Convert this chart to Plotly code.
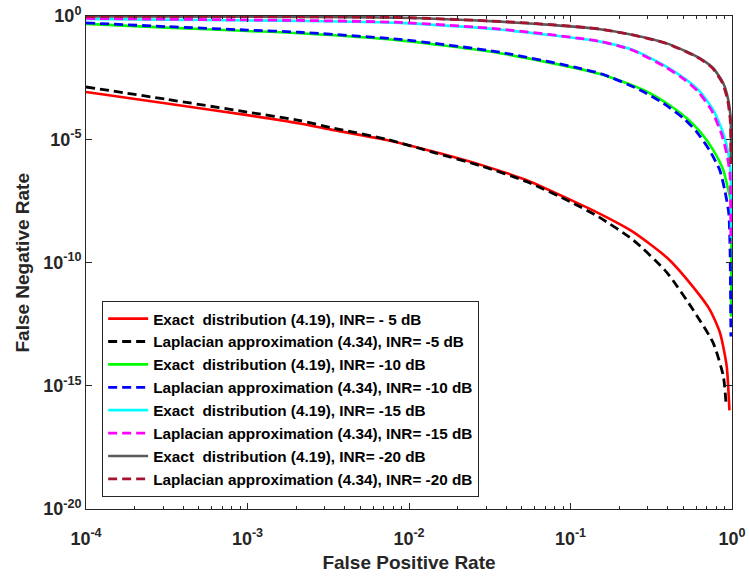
import numpy as np
import plotly.graph_objects as go

# ---- curve data (log10 of the false positive / false negative rates) ----
# INR = -5 dB
exact5_lfpr = [-4.0, -3.5, -3.0, -2.675, -2.489, -2.138, -1.839, -1.55, -1.271, -1.003,
               -0.817, -0.613, -0.40, -0.24, -0.136, -0.074, -0.033, -0.016]
exact5_lfnr = [-3.08, -3.55, -4.02, -4.36, -4.60, -5.03, -5.52, -6.05, -6.66, -7.45,
               -8.03, -8.76, -9.82, -11.0, -11.93, -12.86, -14.2, -16.0]
lap5_lfpr = [-4.0, -3.5, -3.0, -2.675, -2.489, -2.138, -1.839, -1.55, -1.271, -1.003,
             -0.828, -0.611, -0.404, -0.240, -0.116, -0.054, -0.037]
lap5_lfnr = [-2.88, -3.38, -3.90, -4.24, -4.52, -5.00, -5.55, -6.09, -6.72, -7.53,
             -8.14, -9.09, -10.4, -11.93, -13.27, -14.6, -15.7]

# INR = -10 dB
exact10_lfpr = [-4.0, -3.5, -3.0, -2.675, -2.056, -1.437, -0.817, -0.549, -0.404, -0.28,
                -0.198, -0.116, -0.054, -0.023, -0.008, -0.006]
exact10_lfnr = [-0.32, -0.47, -0.61, -0.70, -0.99, -1.51, -2.35, -3.0, -3.54, -4.15,
                -4.69, -5.44, -6.25, -7.06, -7.46, -12.2]
lap10_lfpr = [-4.0, -3.5, -3.0, -2.675, -2.056, -1.437, -0.817, -0.57, -0.425, -0.30,
              -0.22, -0.14, -0.076, -0.045, -0.02, -0.012, -0.007]
lap10_lfnr = [-0.28, -0.43, -0.57, -0.66, -0.95, -1.47, -2.33, -3.0, -3.54, -4.15,
              -4.69, -5.44, -6.25, -7.06, -8.0, -9.5, -13.0]

# INR = -15 dB
exact15_lfpr = [-4.0, -3.5, -3.0, -2.675, -2.056, -1.437, -0.817, -0.611, -0.404, -0.28,
                -0.198, -0.116, -0.054, -0.023, -0.008, -0.006]
exact15_lfnr = [-0.12, -0.15, -0.18, -0.20, -0.28, -0.55, -1.04, -1.38, -2.06, -2.6,
                -3.07, -3.81, -4.76, -5.57, -6.38, -9.0]
lap15_lfpr = [-4.0, -3.5, -3.0, -2.675, -2.056, -1.437, -0.817, -0.62, -0.414, -0.29,
              -0.21, -0.128, -0.066, -0.033, -0.013, -0.007]
lap15_lfnr = [-0.10, -0.13, -0.16, -0.18, -0.26, -0.53, -1.03, -1.38, -2.06, -2.6,
              -3.07, -3.81, -4.76, -5.57, -6.38, -9.2]

# INR = -20 dB
exact20_lfpr = [-4.0, -3.0, -2.675, -2.056, -1.437, -1.1, -0.817, -0.611, -0.404, -0.28,
                -0.198, -0.116, -0.054, -0.023, -0.008, -0.006]
exact20_lfnr = [-0.02, -0.03, -0.04, -0.07, -0.23, -0.37, -0.54, -0.77, -1.11, -1.45,
                -1.72, -2.12, -2.73, -3.41, -4.22, -6.0]
lap20_lfpr = [-4.0, -3.0, -2.675, -2.056, -1.437, -1.1, -0.817, -0.615, -0.408, -0.284,
              -0.202, -0.12, -0.058, -0.027, -0.011, -0.007]
lap20_lfnr = [-0.01, -0.02, -0.03, -0.06, -0.22, -0.36, -0.53, -0.77, -1.11, -1.45,
              -1.72, -2.12, -2.73, -3.41, -4.22, -6.0]

exact_label = "Exact\u00a0 distribution (4.19), INR= "
lap_label = "Laplacian approximation (4.34), INR= "

series = [
    (exact5_lfpr, exact5_lfnr, exact_label + "- 5 dB", "#ff0000", "solid", 2.6),
    (lap5_lfpr, lap5_lfnr, lap_label + "-5 dB", "#000000", "9px,5px", 2.8),
    (exact10_lfpr, exact10_lfnr, exact_label + "-10 dB", "#00ff00", "solid", 2.6),
    (lap10_lfpr, lap10_lfnr, lap_label + "-10 dB", "#0000ff", "9px,5px", 2.8),
    (exact15_lfpr, exact15_lfnr, exact_label + "-15 dB", "#00ffff", "solid", 2.6),
    (lap15_lfpr, lap15_lfnr, lap_label + "-15 dB", "#ff00ff", "9px,5px", 2.8),
    (exact20_lfpr, exact20_lfnr, exact_label + "-20 dB", "#5a5a5a", "solid", 2.6),
    (lap20_lfpr, lap20_lfnr, lap_label + "-20 dB", "#a2142f", "9px,5px", 2.8),
]

fig = go.Figure()
for i, (lx, ly, name, color, dash, width) in enumerate(series):
    fig.add_trace(go.Scatter(
        x=10 ** np.array(lx), y=10 ** np.array(ly),
        mode="lines", name=name,
        line=dict(color=color, dash=dash, width=width, shape="spline", smoothing=0.6),
    ))

axis_color = "#262626"
font_family = "Liberation Sans, Arial, Helvetica, sans-serif"
x_major = [1e-4, 1e-3, 1e-2, 1e-1, 1e0]
x_major_text = ["10<sup>-4</sup>", "10<sup>-3</sup>", "10<sup>-2</sup>", "10<sup>-1</sup>", "10<sup>0</sup>"]
x_minor = [m * d for d in [1e-4, 1e-3, 1e-2, 1e-1] for m in range(2, 10)]
y_major = [1e-20, 1e-15, 1e-10, 1e-5, 1e0]
y_major_text = ["10<sup>-20</sup>", "10<sup>-15</sup>", "10<sup>-10</sup>", "10<sup>-5</sup>", "10<sup>0</sup>"]

tick_font = dict(family=font_family, size=18, color=axis_color, weight="bold")
title_font = dict(family=font_family, size=19, color=axis_color, weight="bold")

fig.update_xaxes(
    type="log", range=[-4, 0], automargin=False,
    tickmode="array", tickvals=x_major, ticktext=x_major_text,
    ticks="inside", ticklen=6, tickwidth=1, tickcolor=axis_color,
    minor=dict(tickmode="array", tickvals=x_minor, ticks="inside", ticklen=3,
               tickwidth=1, tickcolor=axis_color, showgrid=False),
    showline=True, linecolor=axis_color, linewidth=1, mirror="ticks",
    showgrid=False, zeroline=False, tickfont=tick_font, ticklabelstandoff=13,
    title=dict(text="False Positive Rate", font=title_font, standoff=8),
)
fig.update_yaxes(
    type="log", range=[-20, 0], automargin=False,
    tickmode="array", tickvals=y_major, ticktext=y_major_text,
    ticks="inside", ticklen=6, tickwidth=1, tickcolor=axis_color,
    showline=True, linecolor=axis_color, linewidth=1, mirror="ticks",
    showgrid=False, zeroline=False, tickfont=tick_font,
)

# y-axis title placed as a rotated annotation close to the left edge
fig.add_annotation(
    text="False Negative Rate", textangle=-90,
    xref="paper", yref="paper", x=-0.099, y=0.5,
    xanchor="center", yanchor="middle", showarrow=False,
    font=title_font,
)

fig.update_layout(
    width=749, height=576,
    margin=dict(l=86, r=17, t=16, b=67, autoexpand=False),
    paper_bgcolor="white", plot_bgcolor="white",
    font=dict(family=font_family, color=axis_color),
    showlegend=True,
    legend=dict(
        x=0.025, y=0.024, xanchor="left", yanchor="bottom",
        bgcolor="white", bordercolor=axis_color, borderwidth=1,
        font=dict(family=font_family, size=15.3, color="#000000", weight="bold"),
        itemwidth=40, traceorder="normal",
    ),
)

fig.write_html("out.html")
